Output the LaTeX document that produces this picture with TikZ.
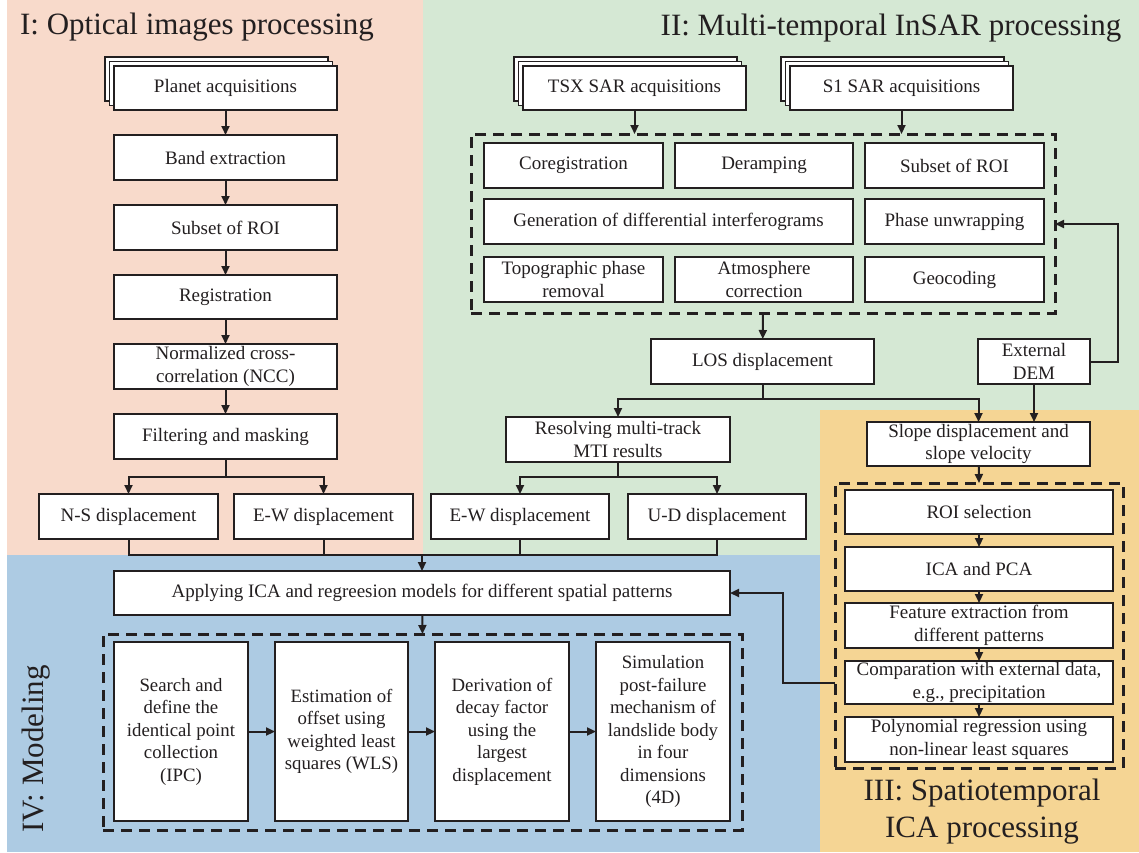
\documentclass[tikz,border=0pt]{standalone}
\usepackage{fontspec}
\setmainfont{Liberation Serif}
\usetikzlibrary{arrows.meta,calc}
\definecolor{pinkbg}{HTML}{F8DACB}
\definecolor{greenbg}{HTML}{D5E8D4}
\definecolor{bluebg}{HTML}{ADCBE3}
\definecolor{orangebg}{HTML}{F5D594}
\definecolor{ink}{HTML}{231F20}
\newcommand\mybox[7][box]{\node[#1,minimum width={#5-#3},minimum height={#6-#4}] (#2) at ({(#3+#5)/2},{(#4+#6)/2}) {#7};}
\newcommand\mystack[4]{%
  \draw[boxline] ({#1-9},{#2-9}) rectangle ({#3-9},{#4-9});
  \draw[boxline] ({#1-4.5},{#2-4.5}) rectangle ({#3-4.5},{#4-4.5});}
\begin{document}
\begin{tikzpicture}[x=1pt,y=-1pt,
  boxline/.style={draw=ink,line width=1.5pt,fill=white},
  box/.style={boxline,inner sep=0pt,outer sep=0pt,align=center,text=ink,font=\fontsize{19}{22.5}\selectfont},
  tallbox/.style={box,font=\fontsize{18.8}{22.5}\selectfont},
  dbox/.style={draw=ink,line width=3pt,dash pattern=on 11pt off 7pt,inner sep=0pt,outer sep=0pt},
  conn/.style={draw=ink,line width=2pt},
  arr/.style={conn,-{Triangle[length=9pt,width=8pt]}},
  title/.style={text=ink,font=\fontsize{31}{37}\selectfont,inner sep=0pt,anchor=base}]
\useasboundingbox (0,0) rectangle (1139,852);
\fill[white] (0,0) rectangle (1139,852);
\fill[pinkbg] (7,0) rectangle (423,555);
\fill[greenbg] (423,0) rectangle (1139,555);
\fill[bluebg] (7,555) rectangle (820,852);
\fill[orangebg] (820,410) rectangle (1139,852);
% titles
\node[title] (t1) at (197,34) {I: Optical images processing};
\node[title] (t2) at (891,35) {II: Multi-temporal InSAR processing};
\node[title] (t3) at (982,800) {III: Spatiotemporal};
\node[title] (t3b) at (982,837) {ICA processing};
\node[title,rotate=90,anchor=center] (t4) at (36,749) {IV: Modeling};
% ---------- I
\mystack{114}{66}{337}{110}
\mybox{planet}{114}{66}{337}{110}{Planet acquisitions}
\mybox{band}{114}{135}{337}{180}{Band extraction}
\mybox{subI}{114}{205}{337}{250}{Subset of ROI}
\mybox{reg}{114}{275}{337}{319}{Registration}
\mybox{ncc}{114}{344}{337}{389}{Normalized cross-\\correlation (NCC)}
\mybox{filt}{114}{414}{337}{459}{Filtering and masking}
\mybox{ns}{39}{494}{218}{539}{N-S displacement}
\mybox{ewI}{234}{494}{413}{539}{E-W displacement}
\draw[arr] (planet) -- (band);
\draw[arr] (band) -- (subI);
\draw[arr] (subI) -- (reg);
\draw[arr] (reg) -- (ncc);
\draw[arr] (ncc) -- (filt);
\draw[arr] (filt.south) -- ++(0,18) -| (ns);
\draw[arr] (filt.south) -- ++(0,18) -| (ewI);
% ---------- II
\mystack{523}{66}{746}{110}
\mybox{tsx}{523}{66}{746}{110}{TSX SAR acquisitions}
\mystack{790}{66}{1013}{110}
\mybox{sone}{790}{66}{1013}{110}{S1 SAR acquisitions}
\mybox[dbox]{dII}{471}{134}{1055}{313}{}
\mybox{coreg}{484}{143}{663}{188}{Coregistration}
\mybox{deramp}{675}{143}{853}{188}{Deramping}
\mybox{subII}{865}{143}{1044}{188}{Subset of ROI}
\mybox{gen}{484}{199}{853}{244}{Generation of differential interferograms}
\mybox{pu}{865}{199}{1044}{244}{Phase unwrapping}
\mybox{topo}{484}{257}{663}{302}{Topographic phase\\removal}
\mybox{atm}{675}{257}{853}{302}{Atmosphere\\correction}
\mybox{geo}{865}{257}{1044}{302}{Geocoding}
\draw[arr] (tsx) -- (tsx |- dII.north);
\draw[arr] (sone) -- (sone |- dII.north);
\mybox{los}{651}{339}{874}{384}{LOS displacement}
\mybox{dem}{978}{339}{1090}{384}{External\\DEM}
\draw[arr] (dII.south) -- (los);
\draw[arr] (dem.east) -- ++(28,0) |- (dII.east |- 0,224);
\mybox{res}{506}{417}{730}{462}{Resolving multi-track\\MTI results}
\mybox{ewII}{431}{494}{609}{539}{E-W displacement}
\mybox{ud}{628}{494}{806}{539}{U-D displacement}
% ---------- III
\mybox{slope}{867}{422}{1090}{466}{Slope displacement and\\slope velocity}
\draw[arr] (los.south) -- ++(0,15) -| (res);
\draw[arr] (los.south) -- ++(0,15) -| (slope);
\draw[arr] (dem) -- (dem |- slope.north);
\draw[arr] (res.south) -- ++(0,15) -| (ewII);
\draw[arr] (res.south) -- ++(0,15) -| (ud);
\mybox[dbox]{dIII}{835}{483}{1123}{768}{}
\mybox{roi}{845}{490}{1113}{534}{ROI selection}
\mybox{ica}{845}{547}{1113}{591}{ICA and PCA}
\mybox{feat}{845}{603}{1113}{648}{Feature extraction from\\different patterns}
\mybox{cmp}{845}{661}{1113}{704}{Comparation with external data,\\e.g., precipitation}
\mybox{poly}{845}{717}{1113}{762}{Polynomial regression using\\non-linear least squares}
\draw[arr] (slope) -- (dIII.north);
\draw[arr] (roi) -- (ica);
\draw[arr] (ica) -- (feat);
\draw[arr] (feat) -- (cmp);
\draw[arr] (cmp) -- (poly);
% ---------- IV
\mybox{apply}{114}{571}{730}{615}{Applying ICA and regreesion models for different spatial patterns}
\coordinate (merge) at (422,555);
\draw[conn] (ns.south) -- ++(0,16) -| (ud.south);
\draw[conn] (ewI.south) -- ++(0,16);
\draw[conn] (ewII.south) -- ++(0,16);
\draw[arr] (merge) -- (apply);
\draw[arr] (dIII.west |- cmp) -- ++(-52,0) |- (apply);
\mybox[dbox]{dIV}{103}{634}{742}{830}{}
\draw[arr] (apply) -- (dIV.north);
\mybox[tallbox]{m1}{114}{642}{248}{821}{Search and\\define the\\identical point\\collection\\(IPC)}
\mybox[tallbox]{m2}{275}{642}{408}{821}{Estimation of\\offset using\\weighted least\\squares (WLS)}
\mybox[tallbox]{m3}{435}{642}{569}{821}{Derivation of\\decay factor\\using the\\largest\\displacement}
\mybox[tallbox]{m4}{596}{642}{730}{821}{Simulation\\post-failure\\mechanism of\\landslide body\\in four\\dimensions\\(4D)}
\draw[arr] (m1) -- (m2);
\draw[arr] (m2) -- (m3);
\draw[arr] (m3) -- (m4);
\end{tikzpicture}
\end{document}
